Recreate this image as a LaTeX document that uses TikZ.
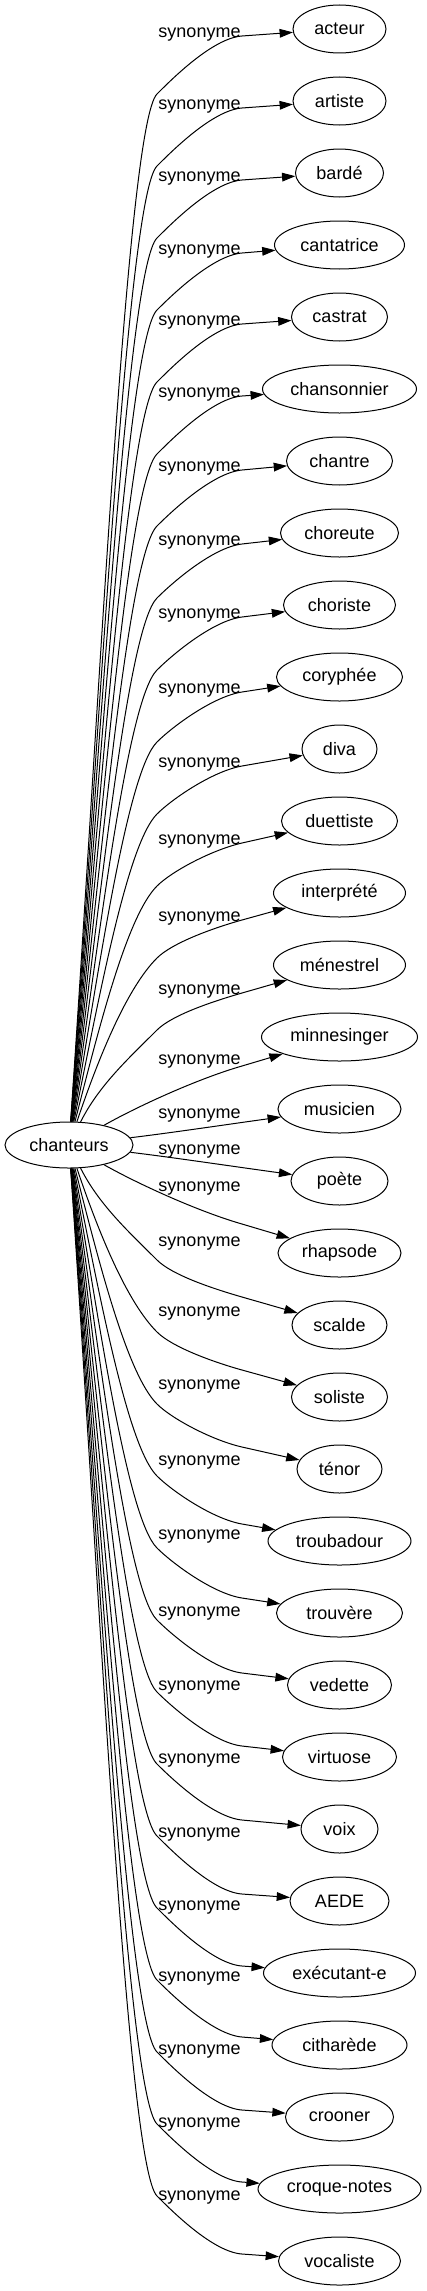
\documentclass[tikz,border=0pt]{standalone}
\usepackage{fontspec}
\setmainfont{Liberation Sans}
\usetikzlibrary{arrows.meta,shapes.geometric}
\begin{document}
\begin{tikzpicture}[x=0.75pt,y=-0.75pt,
  word/.style={draw,ellipse,line width=0.75pt,minimum height=36pt,inner sep=0pt,font=\fontsize{13.5}{16}\selectfont},
  lab/.style={anchor=base,inner sep=0pt,font=\fontsize{13.5}{16}\selectfont},
  edge/.style={draw,line width=0.75pt,-{Triangle[length=10pt,width=6.5pt]}}]
\useasboundingbox (0,0) rectangle (426,2291);
\node[word,minimum width=96pt,minimum height=34.5pt] (ch) at (69,1145) {chanteurs};
\foreach \i/\txt/\ww/\ly in {0/acteur/93/33,1/artiste/93/105,2/bardé/88/177,3/cantatrice/130/250,
  4/castrat/96/321,5/chansonnier/154/393,6/chantre/106/467,7/choreute/118/541,8/choriste/112/614,
  9/coryphée/126/689,10/diva/75/763,11/duettiste/116/840,12/interprété/132/917,13/ménestrel/132/990,
  14/minnesinger/156/1060,15/musicien/123/1114,16/poète/97/1150,17/rhapsode/123/1187,
  18/scalde/95/1242,19/soliste/96/1312,20/ténor/85/1385,21/troubadour/143/1461,22/trouvère/126/1535,
  23/vedette/104/1612,24/virtuose/114/1686,25/voix/77/1759,26/AEDE/99/1833,27/exécutant-e/152/1906,
  28/citharède/135/1977,29/crooner/108/2050,30/croque-notes/163/2123,31/vocaliste/122/2196}{
  \node[word,minimum width=\ww*0.75pt] (n\i) at (339.5,{29+72*\i}) {\txt};
  \node[lab] (l\i) at (199.5,{\ly+4.7}) {synonyme};
}
\foreach \i/\off in {0/4,1/4,2/4,3/5,4/4,5/4,6/6,7/8,8/9,9/12,10/14,11/19,12/24,13/25,
  18/25,19/24,20/19,21/14,22/12,23/9,24/8,25/6,26/4,27/4,28/5,29/4,30/4,31/4}{
  \pgfmathsetmacro\yn{29+72*\i}
  \pgfmathsetmacro\sg{\yn<1145 ? -1 : 1}
  \pgfmathsetmacro\dd{abs(\yn-1145)}
  \pgfmathsetmacro\uone{\dd-65}
  \pgfmathsetmacro\DD{\uone-23}
  \pgfmathsetmacro\ms{min(2.5,75/\DD)}
  \pgfmathsetmacro\cax{69+\ms*0.4*\DD}
  \pgfmathsetmacro\cay{1145+\sg*(23+0.4*\DD)}
  \pgfmathsetmacro\kk{min(30,0.3*\DD)}
  \pgfmathsetmacro\cbx{157-\kk}
  \pgfmathsetmacro\cby{1145+\sg*(\uone-\kk)}
  \pgfmathsetmacro\pay{1145+\sg*\uone}
  \pgfmathsetmacro\ccy{1145+\sg*(\uone+15)}
  \pgfmathsetmacro\pu{\dd-\off-3}
  \pgfmathsetmacro\pby{1145+\sg*\pu}
  \pgfmathsetmacro\cdy{1145+\sg*(\pu-0.3*(\off+3))}
  \draw[edge] (ch) .. controls (\cax,\cay) and (\cbx,\cby) .. (157,\pay)
     .. controls (172,\ccy) and (212.75,\cdy) .. (242,\pby) -- (n\i);
}
\draw[edge] (ch) .. controls (140,1105) and (200,1078) .. (242,1066) -- (n14);
\draw[edge] (ch) .. controls (170,1133) and (230,1124) .. (n15);
\draw[edge] (ch) .. controls (170,1157) and (230,1166) .. (n16);
\draw[edge] (ch) .. controls (140,1185) and (200,1212) .. (242,1224) -- (n17);
\end{tikzpicture}
\end{document}
